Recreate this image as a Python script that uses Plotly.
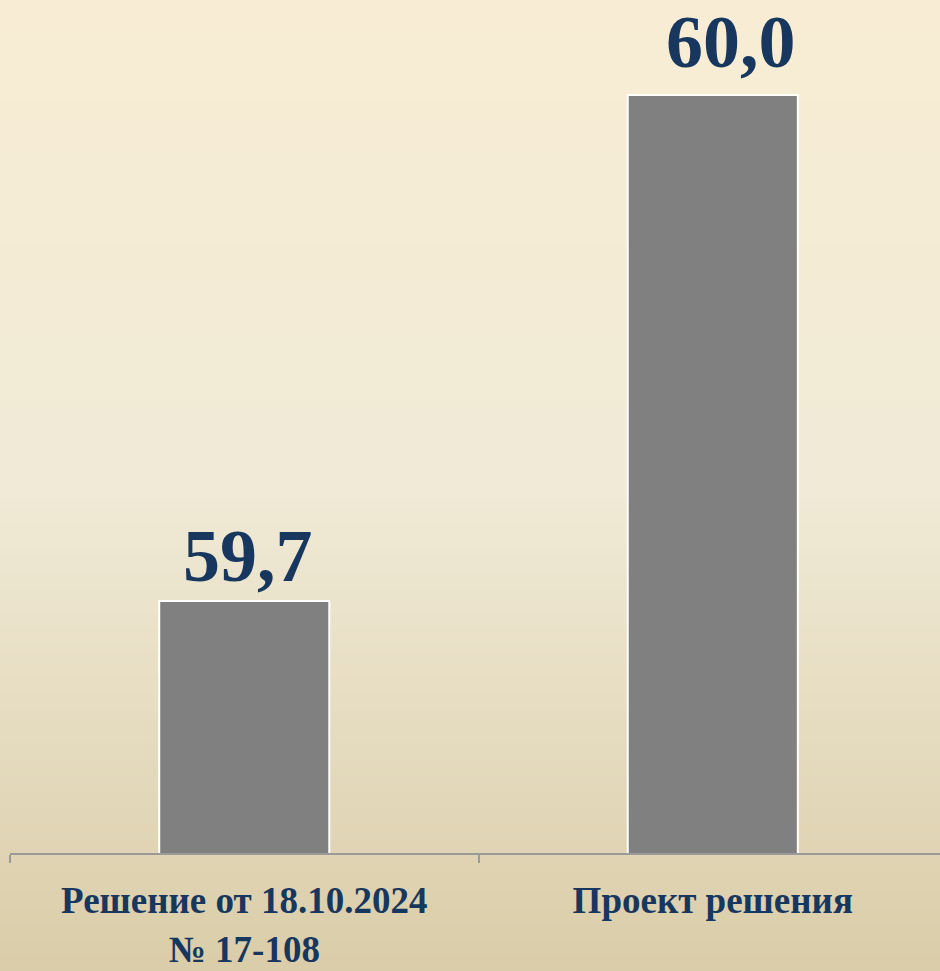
import plotly.graph_objects as go

categories = ["Решение от 18.10.2024<br>№ 17-108", "Проект решения"]
values = [59.7, 60.0]
value_labels = [f"{v:.1f}".replace(".", ",") for v in values]
label_xshift = [4, 18]
label_yshift = [2, 10]

NAVY = "#17375E"

fig = go.Figure()
fig.add_trace(go.Bar(
    x=categories, y=values, width=0.363,
    marker=dict(color="#808080", line=dict(color="white", width=2)),
    hoverinfo="skip",
))

for c, v, t, xs, ys in zip(categories, values, value_labels, label_xshift, label_yshift):
    fig.add_annotation(x=c, y=v, text=t, showarrow=False, yanchor="bottom",
                       yshift=ys, xshift=xs,
                       font=dict(family="Liberation Serif", size=74, color=NAVY, weight="bold"))

# background gradient strips (paper height 971 px; plot area 853 px)
top = (248, 237, 212)
mid = (240, 234, 214)
bot = (218, 204, 168)
n = 120
span = 971 / 853 + 0.01
shapes = []
for i in range(n):
    f = i / (n - 1)
    if f < 0.5:
        g = f / 0.5
        c = tuple(round(top[k] + (mid[k] - top[k]) * g) for k in range(3))
    else:
        g = (f - 0.5) / 0.5
        c = tuple(round(mid[k] + (bot[k] - mid[k]) * g) for k in range(3))
    shapes.append(dict(type="rect", xref="paper", yref="paper", layer="below",
                       x0=-0.05, x1=1.05,
                       y1=1 - (i / n) * span,
                       y0=1 - ((i + 1) / n) * span - 0.002,
                       fillcolor=f"rgb{c}", line=dict(width=0)))

fig.update_layout(
    width=940, height=971,
    margin=dict(l=10, r=0, t=0, b=118),
    paper_bgcolor="rgb(218,204,168)", plot_bgcolor="rgba(0,0,0,0)",
    shapes=shapes, showlegend=False,
    xaxis=dict(type="category", range=[-0.5, 1.485], tickson="boundaries",
               ticks="outside", ticklen=8, tickcolor="#9a9a9a", tickwidth=2,
               showline=True, linecolor="#9a9a9a", linewidth=2, automargin=False,
               showgrid=False, ticklabelstandoff=14,
               tickfont=dict(family="Liberation Serif", size=37, color=NAVY, weight="bold")),
    yaxis=dict(range=[59.5506, 60.0563], visible=False, showgrid=False, zeroline=False,
               automargin=False),
)

fig.write_html("out.html")
